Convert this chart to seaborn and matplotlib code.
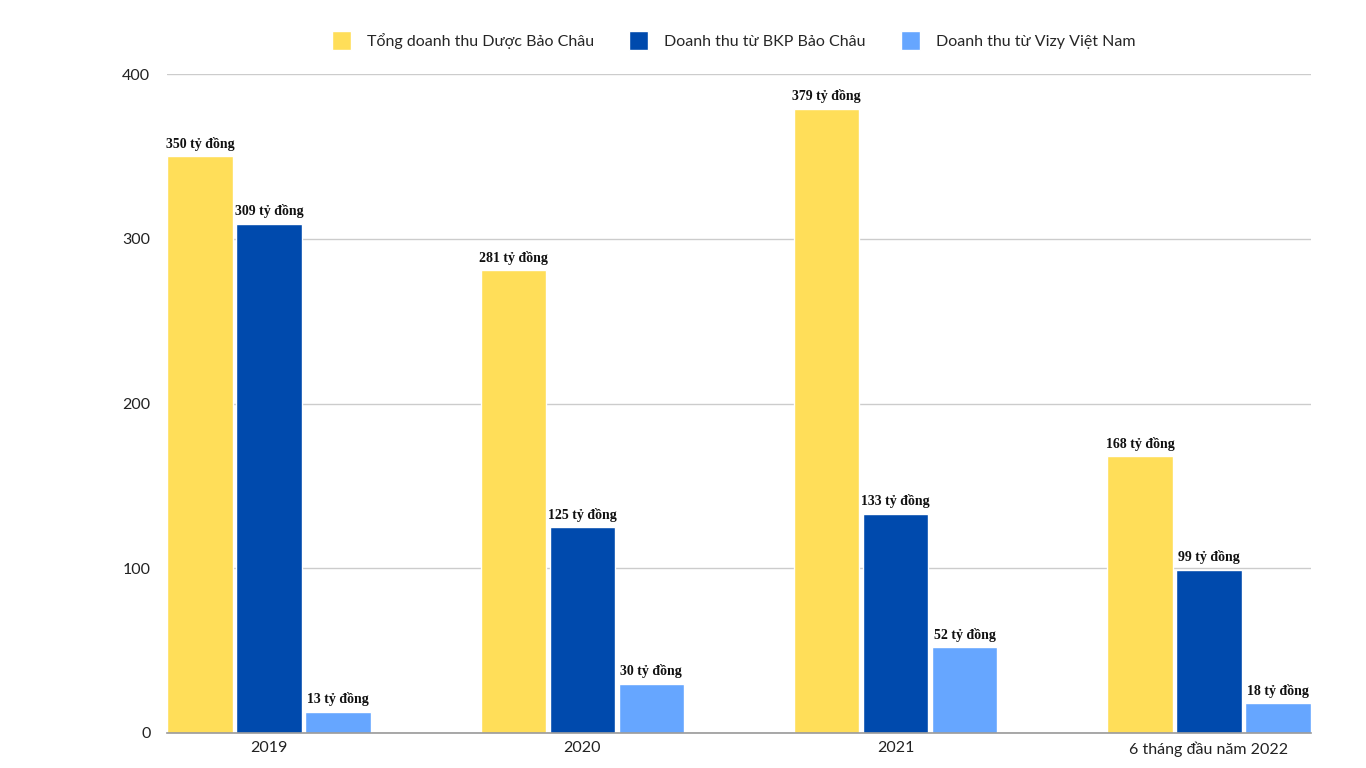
import pandas as pd
import seaborn as sns
import matplotlib.pyplot as plt

categories = ['2019', '2020', '2021', '6 tháng đầu năm 2022']
series = ['Tổng doanh thu Dược Bảo Châu', 'Doanh thu từ BKP Bảo Châu', 'Doanh thu từ Vizy Việt Nam']
tong = [350, 281, 379, 168]
bkp = [309, 125, 133, 99]
vizy = [13, 30, 52, 18]
colors = ['#FFDE59', '#004AAD', '#66A6FF']

df = pd.DataFrame({
    'category': categories * 3,
    'series': [series[0]] * 4 + [series[1]] * 4 + [series[2]] * 4,
    'value': tong + bkp + vizy,
})

sns.set_theme(style='white')
plt.rcParams['font.family'] = ['Lato', 'DejaVu Sans']

fig = plt.figure(figsize=(13.66, 7.68), dpi=100)
ax = fig.add_axes([0.1223, 0.0456, 0.8374, 0.858])

sns.barplot(data=df, x='category', y='value', hue='series', palette=colors,
            width=0.66, gap=0.05, saturation=1, ax=ax, legend=True)

for cont in ax.containers:
    labels = [f'{int(v)} tỷ đồng' for v in cont.datavalues]
    ax.bar_label(cont, labels=labels, padding=4, fontsize=10, fontweight='bold',
                 family='Liberation Serif', color='#111111',
                 bbox=dict(facecolor='white', edgecolor='none', pad=1.5))

ax.set_xlim(-0.3256, 3.3256)
ax.set_ylim(0, 400)
ax.set_yticks([0, 100, 200, 300, 400])
ax.yaxis.grid(True, color='#cccccc', linewidth=1)
ax.set_axisbelow(True)
for s in ['top', 'right', 'left']:
    ax.spines[s].set_visible(False)
ax.spines['bottom'].set_color('#999999')
ax.spines['bottom'].set_linewidth(1.2)
ax.tick_params(axis='both', length=0, labelsize=11.5, colors='#222222')
ax.tick_params(axis='y', pad=12)
ax.tick_params(axis='x', pad=6)
ax.set_xlabel('')
ax.set_ylabel('')

handles, lbls = ax.get_legend_handles_labels()
ax.get_legend().remove()
fig.legend(handles, lbls, loc='center', bbox_to_anchor=(0.537, 0.947), ncol=3,
           frameon=False, fontsize=11.5, handlelength=1.2, handleheight=1.5,
           columnspacing=2.2, handletextpad=1.0)

fig.savefig('out.png', dpi=100)
